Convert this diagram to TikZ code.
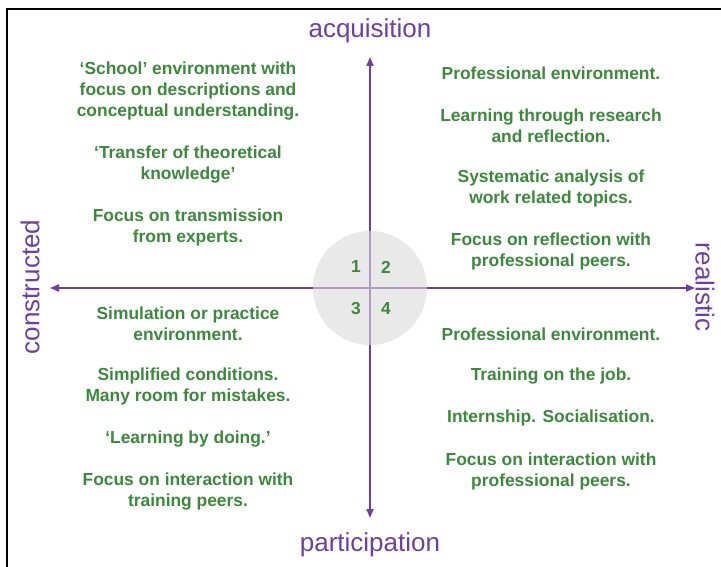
\documentclass[tikz,border=0pt]{standalone}
\usepackage{fontspec}
\setmainfont{Liberation Sans}
\usepackage{tikz}
\usetikzlibrary{arrows.meta}
\definecolor{axispurple}{RGB}{112,62,160}
\definecolor{textgreen}{RGB}{58,138,58}
\definecolor{discgray}{RGB}{218,218,220}
\tikzset{
    quadtext/.style = {text=textgreen, font=\bfseries\fontsize{17.4}{21}\selectfont, align=center, inner sep=0pt},
    quadnum/.style = {text=textgreen, font=\bfseries\fontsize{17.4}{21}\selectfont, inner sep=0pt},
    axislabel/.style = {text=axispurple, font=\fontsize{26}{30}\selectfont, inner sep=0pt},
    axis/.style = {draw=axispurple, line width=2pt, {Triangle[length=9pt,width=7pt]}-{Triangle[length=9pt,width=7pt]}},
}
\begin{document}
\begin{tikzpicture}[x=1pt,y=-1pt]
    \useasboundingbox (0,0) rectangle (721,567);
    \draw[line width=2.2pt, black] (7,9) rectangle (760,600);
    % axes
    \coordinate (west) at (50,288);
    \coordinate (east) at (695,288);
    \coordinate (north) at (370,57);
    \coordinate (south) at (370,518);
    \draw[axis] (west) -- (east);
    \draw[axis] (north) -- (south);
    \fill[discgray, fill opacity=0.6] (370,288) circle (57);
    \node (one) at (356,267) [quadnum] {1};
    \node (two) at (386,267) [quadnum] {2};
    \node (three) at (356,309) [quadnum] {3};
    \node (four) at (386,309) [quadnum] {4};
    % axis labels
    \node (acq) at (370,31) [axislabel] {acquisition};
    \node (par) at (370,545) [axislabel] {participation};
    \node (con) at (30,287) [axislabel, rotate=90] {constructed};
    \node (rea) at (705,287) [axislabel, rotate=-90] {realistic};
    % quadrant 1
    \node (school) at (188,91) [quadtext] {‘School’ environment with\\focus on descriptions and\\conceptual understanding.};
    \node (transfer) at (188,164.5) [quadtext] {‘Transfer of theoretical\\knowledge’};
    \node (transmission) at (188,227.5) [quadtext] {Focus on transmission\\from experts.};
    % quadrant 2
    \node (profa) at (551,73) [quadtext] {Professional environment.};
    \node (research) at (551,125.5) [quadtext] {Learning through research\\and reflection.};
    \node (analysis) at (551,188.5) [quadtext] {Systematic analysis of\\work related topics.};
    \node (reflection) at (551,251.5) [quadtext] {Focus on reflection with\\professional peers.};
    % quadrant 3
    \node (simulation) at (188,323.5) [quadtext] {Simulation or practice\\environment.};
    \node (simplified) at (188,386.5) [quadtext] {Simplified conditions.\\Many room for mistakes.};
    \node (doing) at (188,439) [quadtext] {‘Learning by doing.’};
    \node (training) at (188,491.5) [quadtext] {Focus on interaction with\\training peers.};
    % quadrant 4
    \node (profb) at (551,334) [quadtext] {Professional environment.};
    \node (job) at (551,376) [quadtext] {Training on the job.};
    \node (internship) at (551,418) [quadtext] {Internship. Socialisation.};
    \node (peers) at (551,471.5) [quadtext] {Focus on interaction with\\professional peers.};
\end{tikzpicture}
\end{document}
